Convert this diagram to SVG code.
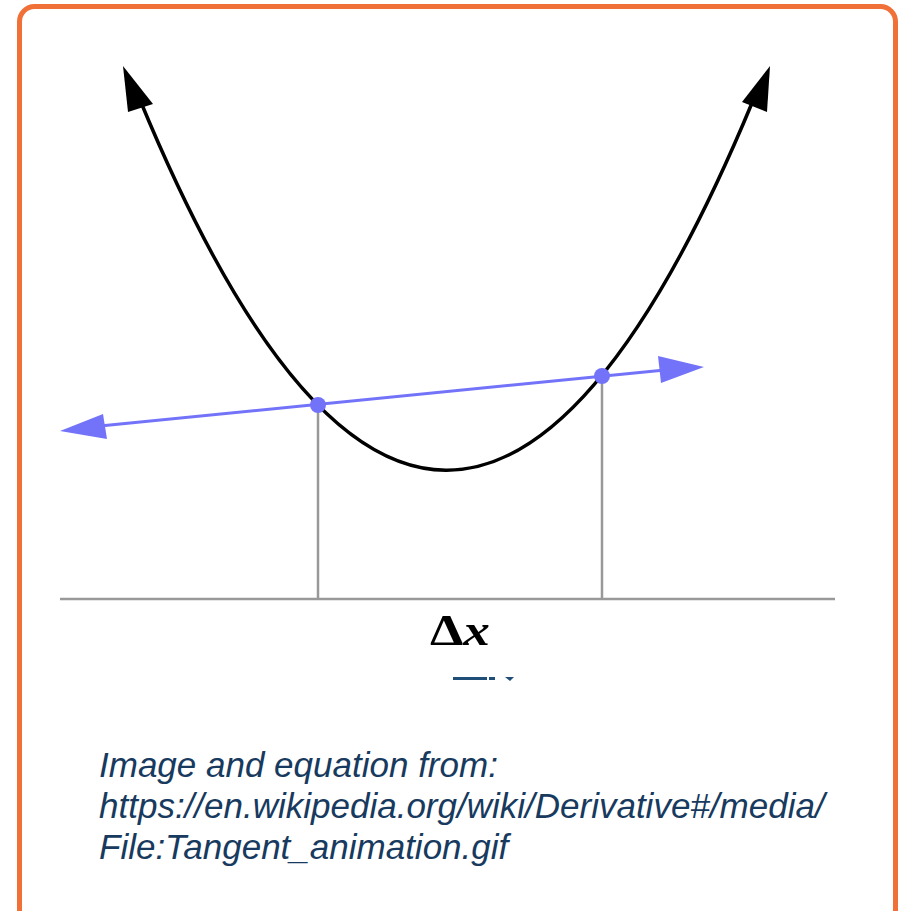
<svg xmlns="http://www.w3.org/2000/svg" width="901" height="911" viewBox="0 0 901 911">
<style>
.frame{fill:#fff;stroke:#f07038;stroke-width:5}
.curve{fill:none;stroke:#000;stroke-width:3.5}
.secant{fill:none;stroke:#7373fa;stroke-width:3}
.guide{fill:none;stroke:#999;stroke-width:2.5}
.cap{font-family:"Liberation Sans",Arial,sans-serif;font-style:italic;font-size:35px;fill:#173a5e}
</style>
<rect class="frame" x="19.5" y="6.5" width="876" height="920" rx="15"/>
<g id="axes">
<line class="guide" x1="60" y1="599" x2="835" y2="599"/>
<line class="guide" x1="318" y1="405" x2="318" y2="599"/>
<line class="guide" x1="602" y1="376" x2="602" y2="599"/>
</g>
<g id="parabola">
<path class="curve" d="M140,100 Q446,839 752,103"/>
<polygon points="123,66 128,112 153,104" fill="#000"/>
<polygon points="770,66 742,102 767,112" fill="#000"/>
</g>
<g id="secant">
<line class="secant" x1="100" y1="426" x2="665" y2="370"/>
<polygon points="60,431 103,414 107,439" fill="#7373fa"/>
<polygon points="704,367 658,356 661,383" fill="#7373fa"/>
<circle cx="318" cy="405" r="8" fill="#7373fa"/>
<circle cx="602" cy="376" r="8" fill="#7373fa"/>
</g>
<g id="label">
<text x="430" y="645" font-family="'Liberation Serif','Times New Roman',serif" font-size="44" font-weight="bold" fill="#000" textLength="60" lengthAdjust="spacingAndGlyphs">Δ<tspan font-style="italic">x</tspan></text>
<g fill="#1f4e79">
<rect x="453" y="677" width="34" height="3"/>
<rect x="489" y="677" width="6" height="3"/>
<path d="M505,677 L514,677 L510,681 Z"/>
</g>
</g>
<g id="caption">
<text class="cap" x="99" y="777">Image and equation from:</text>
<text class="cap" x="99" y="818">https://en.wikipedia.org/wiki/Derivative#/media/</text>
<text class="cap" x="99" y="859">File:Tangent_animation.gif</text>
</g>
</svg>
